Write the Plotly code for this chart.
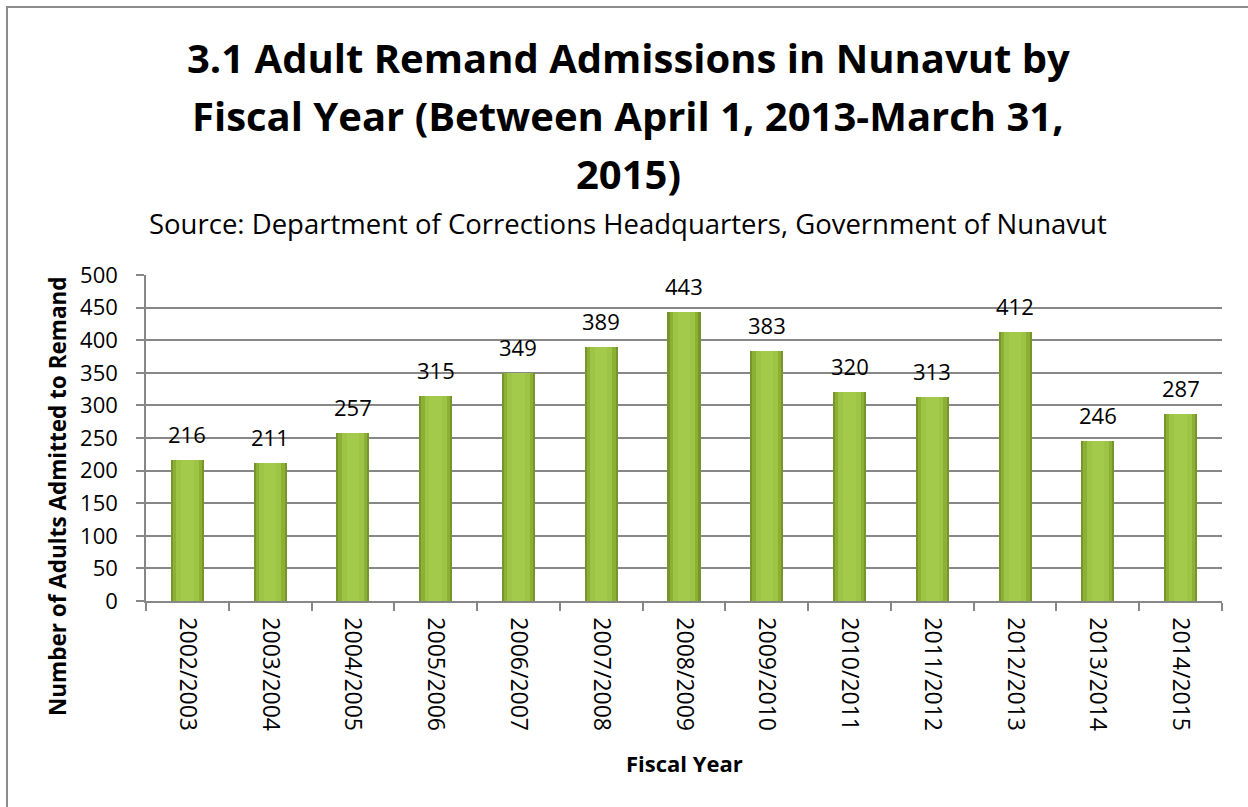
import plotly.graph_objects as go

# fiscal years and remand admissions
years = ["2002/2003", "2003/2004", "2004/2005", "2005/2006", "2006/2007",
         "2007/2008", "2008/2009", "2009/2010", "2010/2011", "2011/2012",
         "2012/2013", "2013/2014", "2014/2015"]
admissions = [216, 211, 257, 315, 349, 389, 443, 383, 320, 313, 412, 246, 287]

title_lines = ["3.1 Adult Remand Admissions in Nunavut by",
               "Fiscal Year (Between April 1, 2013-March 31,",
               "2015)"]
subtitle = "Source: Department of Corrections Headquarters, Government of Nunavut"
x_title = "Fiscal Year"
y_title = "Number of Adults Admitted to Remand"

FONT = "Open Sans"

W, H = 1248, 807
ml, mr, mt, mb = 146, 26, 275, 206
pw, ph = W - ml - mr, H - mt - mb

def px_x(p):
    return (p - ml) / pw

def px_y(p):
    return (H - mb - p) / ph

fig = go.Figure()

# layered bars give a rough bevel look: dark rim, lighter core
for w, col in [(0.40, "#76962A"), (0.35, "#8BB035"), (0.27, "#9DC444"), (0.15, "#A4CA4B")]:
    fig.add_trace(go.Bar(x=years, y=admissions, width=w,
                         marker=dict(color=col, line=dict(width=0)),
                         hoverinfo="x+y"))

# value labels above bars
for yr, v in zip(years, admissions):
    fig.add_annotation(x=yr, y=v, text=str(v), showarrow=False,
                       yanchor="middle", yshift=26,
                       font=dict(family=FONT, size=22, color="#000000"))

# title lines, placed one by one
for line, yy in zip(title_lines, [57.5, 115.5, 173.5]):
    fig.add_annotation(text="<b>%s</b>" % line, x=px_x(628), xref="paper",
                       y=px_y(yy), yref="paper", showarrow=False,
                       xanchor="center", yanchor="middle",
                       font=dict(family=FONT, size=40, color="#000000"))

fig.add_annotation(text=subtitle, x=px_x(628), xref="paper", y=px_y(223), yref="paper",
                   showarrow=False, xanchor="center", yanchor="middle",
                   font=dict(family=FONT, size=27.5, color="#000000"))

# axis titles as annotations so they can sit where the original has them
fig.add_annotation(text="<b>%s</b>" % x_title, x=px_x(684), xref="paper",
                   y=px_y(762.5), yref="paper", showarrow=False,
                   xanchor="center", yanchor="middle",
                   font=dict(family=FONT, size=22, color="#000000"))
fig.add_annotation(text="<b>%s</b>" % y_title, x=px_x(57), xref="paper",
                   y=px_y(496), yref="paper", showarrow=False, textangle=-90,
                   xanchor="center", yanchor="middle",
                   font=dict(family=FONT, size=22.5, color="#000000"))

# outer chart border (right and bottom edges fall outside the picture)
fig.add_shape(type="rect", xref="paper", yref="paper",
              x0=px_x(7), x1=px_x(1260), y0=px_y(820), y1=px_y(7),
              line=dict(color="#8C8C8C", width=2))

fig.update_layout(
    width=W, height=H,
    margin=dict(l=ml, r=mr, t=mt, b=mb),
    paper_bgcolor="white", plot_bgcolor="white",
    showlegend=False, barmode="overlay", bargap=0,
    font=dict(family=FONT, color="#000000"),
    xaxis=dict(
        tickangle=90, tickson="boundaries", ticks="outside", ticklen=8,
        tickcolor="#878787", tickwidth=1.5,
        showline=True, linecolor="#878787", linewidth=1.5,
        tickfont=dict(family=FONT, size=23), ticklabelstandoff=10,
        showgrid=False,
    ),
    yaxis=dict(
        range=[0, 500], dtick=50, ticks="outside", ticklen=8, tickcolor="#878787",
        tickwidth=1.5, showline=True, linecolor="#878787", linewidth=1.5,
        gridcolor="#878787", gridwidth=1.5,
        tickfont=dict(family=FONT, size=22), ticklabelstandoff=14,
    ),
)

fig.write_html("out.html", config={"displayModeBar": False},
               post_script="document.body.style.margin='0px';")
